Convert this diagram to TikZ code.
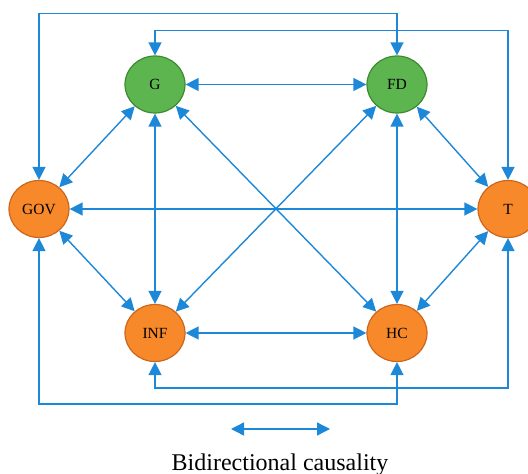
\documentclass[tikz,border=0pt]{standalone}
\usepackage{fontspec}
\setmainfont{Liberation Serif}
\usetikzlibrary{arrows.meta,shapes.geometric}
\definecolor{lblue}{HTML}{1E88D8}
\definecolor{gfill}{HTML}{5DB550}
\definecolor{gdraw}{HTML}{3D8B2F}
\definecolor{ofill}{HTML}{F7892B}
\definecolor{odraw}{HTML}{CC661C}
\tikzset{
  var/.style={ellipse,minimum width=60pt,minimum height=57pt,inner sep=0pt,line width=1.2pt,font=\fontsize{15.5}{18}\selectfont},
  gvar/.style={var,fill=gfill,draw=gdraw},
  ovar/.style={var,fill=ofill,draw=odraw},
  bi/.style={draw=lblue,line width=1.4pt,{Triangle[length=13pt,width=13pt]}-{Triangle[length=13pt,width=13pt]}}
}
\begin{document}
\begin{tikzpicture}[x=1pt,y=-1pt]
\useasboundingbox (0,0) rectangle (528,474);
\node[gvar] (G) at (155,84.5) {G};
\node[gvar] (FD) at (397,84.5) {FD};
\node[ovar] (GOV) at (39,209) {GOV};
\node[ovar] (T) at (508,209) {T};
\node[ovar] (INF) at (155,333) {INF};
\node[ovar] (HC) at (397,333) {HC};
% routed connectors
\draw[bi] (GOV.north) -- (GOV.north |- 0,13.5) -| (FD.north);
\draw[bi] (G.north) -- (G.north |- 0,30.5) -| (T.north);
\draw[bi] (GOV.south) -- (GOV.south |- 0,404) -| (HC.south);
\draw[bi] (INF.south) -- (INF.south |- 0,388) -| (T.south);
% straight connectors
\draw[bi] (G) -- (FD);
\draw[bi] (INF) -- (HC);
\draw[bi] (GOV) -- (T);
\draw[bi] (G) -- (INF);
\draw[bi] (FD) -- (HC);
\draw[bi] (G) -- (GOV);
\draw[bi] (G) -- (HC);
\draw[bi] (FD) -- (INF);
\draw[bi] (FD) -- (T);
\draw[bi] (GOV) -- (INF);
\draw[bi] (T) -- (HC);
% legend
\coordinate (la) at (231,429);
\coordinate (lb) at (330,429);
\draw[bi] (la) -- (lb);
\node[font=\fontsize{24}{28}\selectfont,anchor=base] (leg) at (280,470) {Bidirectional causality};
\end{tikzpicture}
\end{document}
